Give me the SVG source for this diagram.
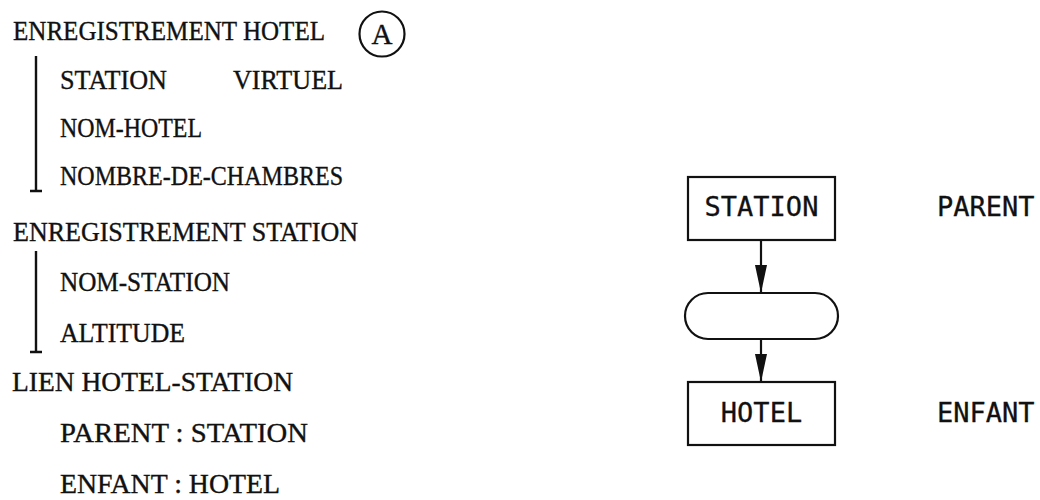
<svg xmlns="http://www.w3.org/2000/svg" width="1040" height="500" viewBox="0 0 1040 500">
<defs>
<marker id="ah" viewBox="0 0 28 12" refX="28" refY="6" markerWidth="28" markerHeight="12" markerUnits="userSpaceOnUse" orient="auto">
<path d="M0,0 L28,6 L0,12 Z" fill="#111"/>
</marker>
</defs>
<style>
.t{font-family:"Liberation Serif","Times New Roman",serif;font-size:27px;fill:#111;stroke:#111;stroke-width:0.35}
.s{font-family:"DejaVu Sans Mono","Liberation Mono",monospace;font-size:27px;fill:#111;stroke:#111;stroke-width:0.3}
.box{fill:#fff;stroke:#111;stroke-width:2.2}
.bar{stroke:#111;stroke-width:2.4;fill:none}
.conn{stroke:#111;stroke-width:2.2;fill:none}
</style>
<rect width="1040" height="500" fill="#fff"/>
<g id="schema-text">
<text class="t" x="13" y="40" textLength="312" lengthAdjust="spacingAndGlyphs">ENREGISTREMENT HOTEL</text>
<g id="label-A"><circle cx="382" cy="34" r="22.5" fill="none" stroke="#111" stroke-width="2.2"/><text class="t" x="382" y="44" text-anchor="middle" style="font-size:29px">A</text></g>
<path class="bar" d="M36,56 V191 M30,191 H42"/>
<text class="t" x="60" y="89" textLength="107" lengthAdjust="spacingAndGlyphs">STATION</text>
<text class="t" x="233" y="89" textLength="110" lengthAdjust="spacingAndGlyphs">VIRTUEL</text>
<text class="t" x="60" y="137" textLength="142" lengthAdjust="spacingAndGlyphs">NOM-HOTEL</text>
<text class="t" x="60" y="185" textLength="283" lengthAdjust="spacingAndGlyphs">NOMBRE-DE-CHAMBRES</text>
<text class="t" x="13" y="241" textLength="345" lengthAdjust="spacingAndGlyphs">ENREGISTREMENT STATION</text>
<path class="bar" d="M36,251 V352 M30,352 H42"/>
<text class="t" x="60" y="291" textLength="170" lengthAdjust="spacingAndGlyphs">NOM-STATION</text>
<text class="t" x="60" y="342" textLength="125" lengthAdjust="spacingAndGlyphs">ALTITUDE</text>
<text class="t" x="12" y="391" textLength="281" lengthAdjust="spacingAndGlyphs">LIEN HOTEL-STATION</text>
<text class="t" x="60" y="442" textLength="248" lengthAdjust="spacingAndGlyphs">PARENT : STATION</text>
<text class="t" x="60" y="493" textLength="220" lengthAdjust="spacingAndGlyphs">ENFANT : HOTEL</text>
</g>
<g id="node-station">
<rect class="box" x="688" y="177" width="147" height="63"/>
<text class="s" x="761.5" y="216" text-anchor="middle">STATION</text>
</g>
<g id="node-lien">
<rect class="box" x="685" y="293" width="153" height="46" rx="23" ry="23"/>
</g>
<g id="node-hotel">
<rect class="box" x="688" y="382" width="147" height="63"/>
<text class="s" x="761.5" y="422" text-anchor="middle">HOTEL</text>
</g>
<g id="role-labels">
<text class="s" x="937" y="216">PARENT</text>
<text class="s" x="937" y="422">ENFANT</text>
</g>
<g id="connectors">
<line class="conn" x1="761" y1="240" x2="761" y2="293" marker-end="url(#ah)"/>
<line class="conn" x1="761" y1="339" x2="761" y2="382" marker-end="url(#ah)"/>
</g>
</svg>
